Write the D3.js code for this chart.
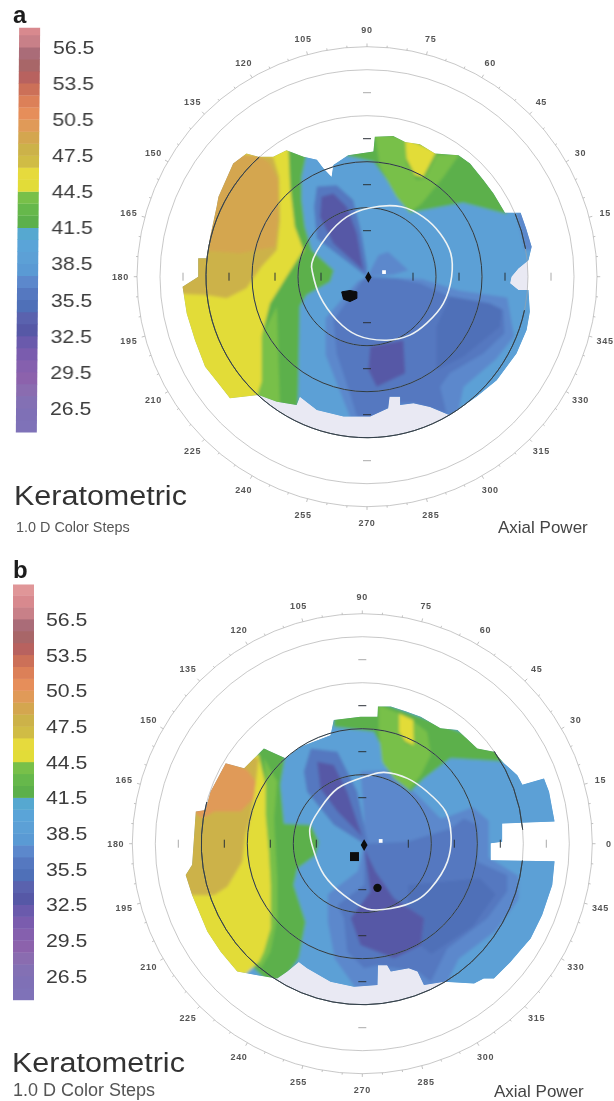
<!DOCTYPE html>
<html>
<head>
<meta charset="utf-8">
<script src="https://d3js.org/d3.v7.min.js"></script>
<style>
  html, body { margin: 0; padding: 0; background: #fff; overflow: hidden; }
  text { font-family: "Liberation Sans", Arial, sans-serif; }
</style>
</head>
<body>
<div id="chart"></div>
<script>
// colour steps of the legend, lower edge of each 1.0 D step (dioptres)
const stepEdges = [24.5, 25.5, 26.5, 27.5, 28.5, 29.5, 30.5, 31.5, 32.5, 33.5, 34.5, 35.5, 36.5, 37.5, 38.5, 39.5, 40.5,
  41.5, 42.5, 43.5, 44.5, 45.5, 46.5, 47.5, 48.5, 49.5, 50.5, 51.5, 52.5, 53.5, 54.5, 55.5, 56.5, 57.5, 58.5];
const stepColors = ["#7f72b8", "#7f70b6", "#8370b4", "#8a6cb0", "#8c62ac", "#8560ae", "#7a5cae", "#6a5aac", "#5658a6",
  "#5a62ae", "#5070b8", "#5578c0", "#5c88cc", "#5a9ad4", "#5ca0d6", "#5aa4d8", "#56a8d0",
  "#5cb04c", "#66b84c", "#78c04a", "#e2dc38", "#e6da3c", "#d0bc44", "#ccb248", "#d4a650", "#e09a58", "#e68e5a", "#dc8058",
  "#cc7058", "#b8625e", "#a86668", "#aa6c78", "#c88088", "#d8898e", "#e09698"];
const legendTicks = [56.5, 53.5, 50.5, 47.5, 44.5, 41.5, 38.5, 35.5, 32.5, 29.5, 26.5];
const angleLabels = [15, 30, 45, 60, 75, 90, 105, 120, 135, 150, 165, 180, 195, 210, 225, 240, 255, 270, 285, 300, 315, 330, 345];
const ringsThin = [1.5, 2.5, 3.5, 4.5, 5];
const axisTicks = [1, 2, 3, 4];

// panel a, map outline and zones, [x, y] in mm from the apex
const aOutline = [[0.17, 3.04], [0.57, 3.06], [0.83, 2.93], [1.15, 2.88], [1.48, 2.68], [1.99, 2.64], [2.24, 2.46], [2.53, 2.1],
  [2.75, 1.81], [3, 1.39], [3.34, 1.39], [3.46, 1.05], [3.58, 0.65], [3.51, 0.36], [3.29, 0.18], [3.14, 0], [3.11, -0.14],
  [3.29, -0.29], [3.51, -0.29], [3.54, -0.76], [3.47, -1.16], [3.25, -1.67], [2.82, -2.25], [2.38, -2.61], [1.8, -3.01],
  [1.37, -2.83], [1.01, -2.75], [0.72, -2.79], [0.72, -2.61], [0.49, -2.61], [0.46, -2.86], [0.07, -3.04], [-0.51, -3.04],
  [-1.09, -2.9], [-1.46, -2.61], [-1.53, -2.79], [-1.96, -2.72], [-2.36, -2.57], [-2.98, -2.64], [-3.23, -2.32], [-3.52, -1.96],
  [-3.74, -1.38], [-3.92, -0.8], [-4.01, -0.22], [-3.67, 0], [-3.67, 0.4], [-3.49, 0.4], [-3.41, 0.87], [-3.27, 1.52],
  [-3.23, 1.74], [-2.91, 2.46], [-2.62, 2.68], [-2.36, 2.61], [-2.04, 2.61], [-1.75, 2.75], [-1.38, 2.61], [-1.09, 2.54],
  [-0.95, 2.36], [-0.77, 2.17], [-0.73, 2.43], [-0.41, 2.64], [0.14, 2.72]];
const aGreenLeft = [[-1.75, 2.79], [-1.31, 2.68], [-1.42, 2.17], [-1.42, 1.67], [-1.35, 1.09], [-1.2, 0.58], [-0.72, 0.14], [-0.8, -0.11],
  [-1.31, -0.4], [-1.46, -0.65], [-1.5, -2.9], [-2.47, -2.75], [-2.4, 0.51], [-1.89, 2.82]];
const aGreenLow = [[-1.96, -0.65], [-1.89, -2.9], [-2.47, -2.75], [-2.33, -2.1], [-2.29, -1.3]];
const aYellow = [[-4.43, 1.96], [-2.98, 2.83], [-1.71, 2.83], [-1.67, 1.96], [-1.57, 1.09], [-1.38, 0.58], [-1.75, 0], [-2.11, -0.58],
  [-2.29, -1.3], [-2.29, -2.28], [-2.4, -2.61], [-3.05, -2.83], [-4.43, -1.67]];
const aOlive = [[-4.43, -0.36], [-3.49, -0.4], [-3.05, -0.47], [-2.62, -0.25], [-2.29, 0.22], [-1.96, 0.58], [-1.89, 1.23], [-1.91, 2.17],
  [-2.04, 2.61], [-2.98, 2.68], [-4.43, 1.23]];
const aOrange = [[-3.7, 0.58], [-2.76, 0.51], [-2, 0.65], [-1.93, 1.23], [-1.93, 2.1], [-2.11, 2.46], [-2.36, 2.64], [-2.98, 2.68], [-3.7, 1.59]];
const aGreenTop = [[-0.66, 2.68], [0.14, 2.5], [0.43, 2.1], [0.64, 1.74], [0.93, 1.39], [1.26, 1.45], [2.09, 1.61], [3.04, 1.36], [2.82, 2.68], [0.17, 3.19]];
const aGreenLight = [[0.17, 3.12], [0.83, 3.01], [0.86, 2.46], [1.08, 2.1], [1.26, 2.14], [1.51, 2.64], [2.02, 2.68], [1.66, 2.17], [1.19, 1.59],
  [0.93, 1.39], [0.64, 1.74], [0.28, 2.39]];
const aYellowTop = [[0.83, 3.01], [1.51, 2.72], [1.22, 2.17], [1.04, 2.21], [0.86, 2.57]];
const aWedge = [[0, 0], [-1.09, 0.83], [-1.15, 1.52], [-1.09, 1.96], [-0.66, 1.99], [-0.3, 1.67], [-0.12, 0.94], [0, 0.22]];
const aWedgeCore = [[-0.08, 0.14], [-0.73, 0.72], [-1.02, 1.3], [-0.99, 1.74], [-0.73, 1.81], [-0.44, 1.52], [-0.22, 0.94]];
const aPatchRight = [[0, 0], [0.25, 0.47], [0.46, 0.54], [0.9, 0.14], [0.57, 0.04]];
const aEdgeRight = [[3.25, 1.38], [3.62, 1.38], [3.62, 0.58], [3.43, 0.58]];
const aLowerOuter = [[0, 0], [1.2, -0.05], [2, -0.3], [3.05, -0.45], [3.2, -1.3], [2.8, -1.8], [2.1, -2.4], [1.95, -3.1], [-0.35, -3.1], [-0.9, -1.7], [-0.9, -0.9], [-0.2, -0.1]];
const aLower = [[0, 0], [0.64, -0.04], [1.15, -0.14], [1.8, -0.43], [2.67, -0.58], [2.96, -0.72], [2.99, -1.23], [2.53, -1.67], [1.8, -2.1],
  [1.59, -2.39], [1.73, -2.97], [1.01, -2.75], [0.72, -2.75], [0.46, -2.86], [0.07, -3.1], [-0.22, -3.04], [-0.37, -2.54], [-0.66, -1.67], [-0.73, -0.94], [-0.15, -0.14]];
const aLowerRight = [[1.8, -0.43], [2.67, -0.58], [2.93, -0.72], [2.89, -1.09], [2.09, -1.74], [1.51, -2.03], [1.51, -1.09]];
const aLowerCore = [[0.07, -1.52], [0.79, -1.38], [0.83, -2.1], [0.21, -2.39], [0.03, -2.03]];
const aPupil = [[0.03, 1.49], [0.75, 1.52], [1.22, 1.3], [1.59, 0.94], [1.82, 0.51], [1.84, 0], [1.66, -0.58], [1.3, -1.01], [0.93, -1.27],
  [0.43, -1.38], [-0.22, -1.27], [-0.66, -0.94], [-1.02, -0.43], [-1.18, 0.07], [-1.2, 0.29], [-0.88, 0.87], [-0.44, 1.3]];
const aBlob = [[-0.55, -0.33], [-0.37, -0.3], [-0.22, -0.33], [-0.22, -0.47], [-0.37, -0.54], [-0.51, -0.49]];
// dark parts of the 3.5 mm ring and pale unmeasured sectors, clock degrees
const aDarkArcs = [[102, 318], [67, 80]];
const aPaleSectors = [[149, 223], [80, 100]];

// panel b
const bOutline = [[0.34, 2.98], [0.62, 2.98], [0.94, 2.88], [1.27, 2.76], [1.7, 2.51], [2.07, 2.47], [2.5, 2.07], [2.86, 2], [3.08, 1.75],
  [3.37, 1.49], [3.48, 1.28], [3.95, 1.42], [4.06, 1.13], [4.18, 0.48], [3.04, 0.44], [3.04, 0.04], [2.79, 0.01], [2.79, -0.36], [4.18, -0.38],
  [4.13, -0.9], [3.91, -1.55], [3.66, -2.06], [3.22, -2.57], [2.86, -2.93], [2.64, -2.93], [2.43, -3.04], [1.78, -3], [1.34, -3.07],
  [1.2, -2.78], [1.01, -2.71], [0.62, -2.78], [0.54, -2.64], [0.34, -2.64], [0.33, -3.07], [-0.18, -3.11], [-0.69, -3], [-1.2, -2.71],
  [-1.38, -2.57], [-1.63, -2.78], [-1.85, -2.93], [-2.28, -2.86], [-2.72, -2.78], [-3.08, -2.35], [-3.37, -1.91], [-3.7, -1.12], [-3.84, -0.68],
  [-3.7, -0.46], [-3.62, 0.7], [-3.41, 0.73], [-3.3, 1.13], [-2.97, 1.75], [-2.57, 1.64], [-2.14, 2.07], [-1.67, 1.86], [-1.34, 2.11],
  [-0.69, 2.36], [-0.62, 2.69], [-0.04, 2.76], [0.33, 2.76]];
const bGreenLeft = [[-2.14, 2.14], [-1.67, 1.93], [-1.78, 1.28], [-1.7, 0.44], [-1.12, 0.41], [-0.94, 0.04], [-1.01, -0.25], [-1.41, -0.54],
  [-1.49, -0.9], [-1.23, -1.7], [-1.38, -2.49], [-1.63, -2.86], [-1.99, -3.07], [-2.36, -2.71], [-2.21, -1.62], [-2.28, 2]];
const bGreenBand = [[-2.14, 1.86], [-1.85, 1.35], [-1.92, 0.55], [-1.85, -0.75], [-1.85, -1.62], [-2, -2.35], [-2.21, -2.71], [-2.28, -2.57],
  [-2.14, -2.35], [-1.99, -1.84], [-1.99, -0.9], [-2.03, -0.17], [-2.1, 0.62], [-2.1, 1.28]];
const bYellow = [[-3, 2], [-2.25, 1.93], [-2.1, 1.28], [-2.1, 0.62], [-2.03, -0.17], [-1.99, -0.9], [-1.99, -1.84], [-2.14, -2.35], [-2.25, -2.57],
  [-2.64, -2.93], [-3.95, -1.99], [-4.02, -0.9]];
const bOlive = [[-4.09, -1.12], [-3.22, -1.12], [-2.93, -0.93], [-2.61, -0.39], [-2.54, 0.19], [-2.43, 0.55], [-2.32, 1.28], [-2.25, 1.86], [-3, 2], [-3.95, 0.7]];
const bOrange = [[-3, 1.86], [-2.5, 1.6], [-2.32, 1.35], [-2.36, 0.99], [-2.64, 0.7], [-3.22, 0.7], [-3.48, 0.55], [-3.66, 0.7], [-3.3, 1.28]];
const bGreenTop = [[-0.62, 2.76], [0.36, 3.09], [2.93, 2.14], [3.12, 1.78], [1.92, 1.86], [1.34, 1.42], [1.05, 1.13], [0.83, 1.35], [0.47, 1.71],
  [0.4, 2.14], [0.25, 2.43], [-0.62, 2.54]];
const bGreenLight = [[0.36, 3.01], [0.8, 2.83], [0.8, 2.43], [0.94, 2.18], [1.12, 2.14], [1.12, 2.65], [1.41, 2.43], [1.49, 1.93], [1.27, 1.49],
  [1.01, 1.17], [0.69, 1.42], [0.43, 1.78], [0.36, 2.4]];
const bYellowTop = [[0.8, 2.83], [1.11, 2.69], [1.12, 2.14], [0.94, 2.22], [0.8, 2.43]];
const bWedge = [[0.04, 0], [-0.62, 0.41], [-1.2, 1.13], [-1.27, 1.57], [-1.12, 2.07], [-0.54, 2], [-0.11, 1.13], [0.11, 0.04]];
const bWedgeCore = [[-0.98, 1.78], [-0.62, 1.71], [-0.33, 1.13], [0, 0.15], [-0.54, 0.7], [-0.91, 1.2]];
const bPatchTop = [[0.04, 0], [0.04, 0.55], [-0.04, 1.57], [0.62, 1.6], [1.27, 0.99], [1.92, 0.33], [0.98, 0.04]];
const bLowerOuter = [[0.04, 0], [0.8, 0.3], [1.9, 0.6], [2.4, 0.8], [2.75, 0.5], [2.75, -0.3], [3.4, -0.7], [3.4, -1.2], [2.9, -1.9], [2.1, -2.5],
  [1.75, -3.2], [-0.1, -3.2], [-0.6, -2.5], [-0.75, -1.7], [-0.75, -1.1], [-0.1, -0.6]];
const bLower = [[0.04, 0], [0.98, 0.04], [1.92, 0.33], [2.21, 0.55], [2.5, 0.41], [2.5, -0.39], [3.15, -0.68], [3.15, -1.04], [2.72, -1.62],
  [1.85, -2.28], [1.49, -3], [1.2, -2.78], [0.33, -2.64], [0.04, -2.71], [-0.33, -2.35], [-0.4, -1.62], [-0.54, -1.33], [0.04, -0.9], [0.04, -0.17]];
const bLowerRight = [[1, -0.9], [2.55, -0.75], [2.9, -1.1], [2.4, -1.8], [1.5, -2.4], [1, -2]];
const bLowerCore = [[0.04, -0.1], [0.29, -0.61], [0.69, -1.19], [1.34, -1.62], [1.27, -2.2], [0.69, -2.49], [-0.04, -2.2], [-0.25, -1.62], [0.18, -1.04]];
const bPupil = [[0.14, 1.48], [0.47, 1.55], [0.98, 1.42], [1.41, 1.13], [1.81, 0.7], [1.93, 0.19], [1.85, -0.39], [1.49, -0.97], [1.2, -1.22],
  [0.62, -1.41], [0.11, -1.42], [-0.4, -1.12], [-0.83, -0.68], [-1.05, -0.17], [-1.14, 0.33], [-0.91, 0.77], [-0.54, 1.2]];
const bDarkArcs = [[96, 285], [55, 85]];
const bPaleSectors = [[149, 213]];

// zone tables, painted in this order: [dioptres, polygon]
const aZones = [[37, aEdgeRight], [37, aPatchRight], [37, aLowerOuter], [36, aLower], [35, aLowerRight], [33, aLowerCore], [36, aWedge], [33, aWedgeCore],
  [42, aGreenLeft], [43.6, aGreenLow], [45, aYellow], [47.6, aOlive], [48.6, aOrange], [42, aGreenTop], [43.6, aGreenLight], [45, aYellowTop]];
const bZones = [[37, bPatchTop], [37, bLowerOuter], [36, bLower], [35, bLowerRight], [33, bLowerCore], [36, bWedge], [33, bWedgeCore],
  [42, bGreenLeft], [43.6, bGreenBand], [45, bYellow], [47.6, bOlive], [49.6, bOrange], [42, bGreenTop], [43.6, bGreenLight], [45, bYellowTop]];

const svg = d3.select("#chart").append("svg").attr("width", 614).attr("height", 1101);
const defs = svg.append("defs");
defs.append("filter").attr("id", "soft").attr("filterUnits", "userSpaceOnUse")
  .attr("x", 0).attr("y", 0).attr("width", 614).attr("height", 1101)
  .append("feGaussianBlur").attr("stdDeviation", 0.65);
defs.append("filter").attr("id", "bands").attr("filterUnits", "userSpaceOnUse")
  .attr("x", 0).attr("y", 0).attr("width", 614).attr("height", 1101)
  .append("feGaussianBlur").attr("stdDeviation", 1.6);
const root = svg.append("g").attr("filter", "url(#soft)");

const stepColor = d3.scaleThreshold().domain(stepEdges.slice(1)).range(stepColors);

function drawLegend(p) {
  const g = root.append("g")
    .attr("transform", `translate(${p.barX},${p.tickTop}) skewX(${p.skew}) translate(${-p.barX},${-p.tickTop})`);
  const y = d3.scaleLinear().domain([56.5, 26.5]).range([p.tickTop, p.tickBottom]);
  g.selectAll(".cell")
    .data(stepEdges.filter((d) => d < p.barMax && d + 1 > p.barMin))
    .enter()
    .append("rect")
    .attr("x", p.barX)
    .attr("width", 21)
    .attr("y", (d) => y(Math.min(d + 1, p.barMax)))
    .attr("height", (d) => y(Math.max(d, p.barMin)) - y(Math.min(d + 1, p.barMax)) + 0.4)
    .attr("fill", (d) => stepColor(d + 0.5));
  g.selectAll(".tick")
    .data(legendTicks)
    .enter()
    .append("text")
    .attr("transform", (d) => `translate(${p.labelX},${y(d) + 6.8}) scale(1.12,1)`)
    .attr("font-size", 19)
    .attr("fill", "#3d3d3d")
    .text((d) => d.toFixed(1));
}

function drawMap(p) {
  const x = d3.scaleLinear().domain([-5, 5]).range([p.cx - 230, p.cx + 230]);
  const y = d3.scaleLinear().domain([-5, 5]).range([p.cy + 230, p.cy - 230]);
  const r = d3.scaleLinear().domain([0, 5]).range([0, 230]);
  const rad = (deg) => (deg * Math.PI) / 180;
  const line = d3.line().x((d) => x(d[0])).y((d) => y(d[1]));
  const loop = d3.line().x((d) => x(d[0])).y((d) => y(d[1])).curve(d3.curveCatmullRomClosed);
  const g = root.append("g");

  // pale unmeasured sectors sit under the map
  g.selectAll(".pale")
    .data(p.pale)
    .enter()
    .append("path")
    .attr("transform", `translate(${p.cx},${p.cy})`)
    .attr("d", (d) => d3.arc()({ innerRadius: 0, outerRadius: r(3.5), startAngle: rad(d[0]), endAngle: rad(d[1]) }))
    .attr("fill", "#e9e9f3");

  defs.append("clipPath").attr("id", "clip-" + p.id).append("path").attr("d", line(p.outline) + "Z");
  const map = g.append("g").attr("clip-path", `url(#clip-${p.id})`);
  map.append("path").attr("d", line(p.outline) + "Z").attr("fill", stepColor(39));
  const bands = map.append("g").attr("filter", "url(#bands)");
  // base again inside the blur, wide enough that its edge never shows through the clip
  bands.append("path").attr("d", line(p.outline) + "Z").attr("fill", stepColor(39)).attr("stroke", stepColor(39)).attr("stroke-width", 8);
  bands.selectAll(".zone")
    .data(p.zones)
    .enter()
    .append("path")
    .attr("d", (d) => line(d[1]) + "Z")
    .attr("fill", (d) => stepColor(d[0]));

  // thin grey rings
  g.selectAll(".ring")
    .data(ringsThin)
    .enter()
    .append("circle")
    .attr("cx", p.cx)
    .attr("cy", p.cy)
    .attr("r", (d) => r(d))
    .attr("fill", "none")
    .attr("stroke", "#a2a2a2")
    .attr("stroke-width", 0.6);

  // dark rings over the map
  g.selectAll(".ringDark")
    .data([1.5, 2.5])
    .enter()
    .append("circle")
    .attr("cx", p.cx)
    .attr("cy", p.cy)
    .attr("r", (d) => r(d))
    .attr("fill", "none")
    .attr("stroke", "#2c3a44")
    .attr("stroke-width", 1);
  g.selectAll(".arcDark")
    .data(p.darkArcs)
    .enter()
    .append("path")
    .attr("transform", `translate(${p.cx},${p.cy})`)
    .attr("d", (d) => d3.arc()({ innerRadius: r(3.5), outerRadius: r(3.5), startAngle: rad(d[0]), endAngle: rad(d[1]) }))
    .attr("fill", "none")
    .attr("stroke", "#2c3a44")
    .attr("stroke-width", 0.8);

  // degree ticks on the outer ring
  g.selectAll(".deg")
    .data(d3.range(0, 360, 5))
    .enter()
    .append("line")
    .attr("x1", (d) => x(5 * Math.cos(rad(d))))
    .attr("y1", (d) => y(5 * Math.sin(rad(d))))
    .attr("x2", (d) => x((d % 15 == 0 ? 5.07 : 5.04) * Math.cos(rad(d))))
    .attr("y2", (d) => y((d % 15 == 0 ? 5.07 : 5.04) * Math.sin(rad(d))))
    .attr("stroke", "#999")
    .attr("stroke-width", 0.6);

  g.selectAll(".angle")
    .data(p.angles)
    .enter()
    .append("text")
    .attr("x", (d) => x(5.36 * Math.cos(rad(d))))
    .attr("y", (d) => y(5.36 * Math.sin(rad(d))) + 3)
    .attr("text-anchor", "middle")
    .attr("font-size", 9)
    .attr("letter-spacing", 0.7)
    .attr("font-weight", "bold")
    .attr("fill", "#555")
    .text((d) => d);

  // mm marks along the two axes
  const marks = [];
  axisTicks.forEach((t) => {
    marks.push({ x: t, y: 0, v: 1 }, { x: -t, y: 0, v: 1 }, { x: 0, y: t, v: 0 }, { x: 0, y: -t, v: 0 });
  });
  g.selectAll(".mark")
    .data(marks)
    .enter()
    .append("line")
    .attr("x1", (d) => x(d.x) - (d.v ? 0 : 4))
    .attr("x2", (d) => x(d.x) + (d.v ? 0 : 4))
    .attr("y1", (d) => y(d.y) - (d.v ? 4 : 0))
    .attr("y2", (d) => y(d.y) + (d.v ? 4 : 0))
    .attr("stroke", (d) => (Math.abs(d.x) == 4 || Math.abs(d.y) == 4 ? "#aaa" : "#2a3238"))
    .attr("stroke-width", 1);

  // pupil edge and the small markers
  g.append("path")
    .attr("d", loop(p.pupil))
    .attr("fill", "none")
    .attr("stroke", "#eef3f4")
    .attr("stroke-width", 1.6);
  if (p.blob) {
    g.append("path").attr("d", line(p.blob) + "Z").attr("fill", "#0a0a0a").attr("stroke", "#0a0a0a");
  }
  g.selectAll(".marker")
    .data(p.markers)
    .enter()
    .append("path")
    .attr("transform", (d) => `translate(${x(d.x)},${y(d.y)})`)
    .attr("d", (d) => d3.symbol().type(d.type).size(d.size)())
    .attr("fill", (d) => d.color);
}

function drawLabels(p) {
  const g = root.append("g");
  g.append("text").attr("x", p.letterX).attr("y", p.letterY).attr("font-size", 24).attr("font-weight", "bold").attr("fill", "#1c1c1c").text(p.letter);
  g.append("text").attr("transform", `translate(${p.titleX},${p.titleY}) scale(1.09,1)`).attr("font-size", 28).attr("fill", "#333").text("Keratometric");
  g.append("text").attr("x", p.subX).attr("y", p.subY).attr("font-size", p.subSize).attr("fill", "#555").text("1.0 D Color Steps");
  g.append("text").attr("x", p.axialX).attr("y", p.axialY).attr("font-size", 17).attr("fill", "#444").text("Axial Power");
}

const panelA = {
  id: "a", letter: "a", letterX: 13, letterY: 23,
  barX: 19, skew: -0.47, tickTop: 47, tickBottom: 408, barMin: 24.4, barMax: 58.1, labelX: 53,
  titleX: 14, titleY: 505, subX: 16, subY: 532, subSize: 14.4, axialX: 498, axialY: 533,
  cx: 367, cy: 276.7, outline: aOutline, zones: aZones, pupil: aPupil, blob: aBlob,
  darkArcs: aDarkArcs, pale: aPaleSectors, angles: angleLabels,
  markers: [
    { x: 0.03, y: -0.01, type: d3.symbolDiamond, size: 36, color: "#0a0a0a" },
    { x: 0.37, y: 0.1, type: d3.symbolSquare, size: 14, color: "#fff" },
  ],
};
const panelB = {
  id: "b", letter: "b", letterX: 13, letterY: 578,
  barX: 13, skew: 0, tickTop: 619, tickBottom: 976, barMin: 24.2, barMax: 59.4, labelX: 46,
  titleX: 12, titleY: 1072, subX: 13, subY: 1096, subSize: 18, axialX: 494, axialY: 1097,
  cx: 362.3, cy: 843.7, outline: bOutline, zones: bZones, pupil: bPupil, blob: null,
  darkArcs: bDarkArcs, pale: bPaleSectors, angles: [0].concat(angleLabels),
  markers: [
    { x: 0.04, y: -0.03, type: d3.symbolDiamond, size: 40, color: "#0a0a0a" },
    { x: -0.17, y: -0.28, type: d3.symbolSquare, size: 80, color: "#0a0a0a" },
    { x: 0.33, y: -0.96, type: d3.symbolCircle, size: 55, color: "#0a0a0a" },
    { x: 0.4, y: 0.06, type: d3.symbolSquare, size: 14, color: "#fff" },
  ],
};

[panelA, panelB].forEach((p) => {
  drawLegend(p);
  drawMap(p);
  drawLabels(p);
});
</script>
</body>
</html>
